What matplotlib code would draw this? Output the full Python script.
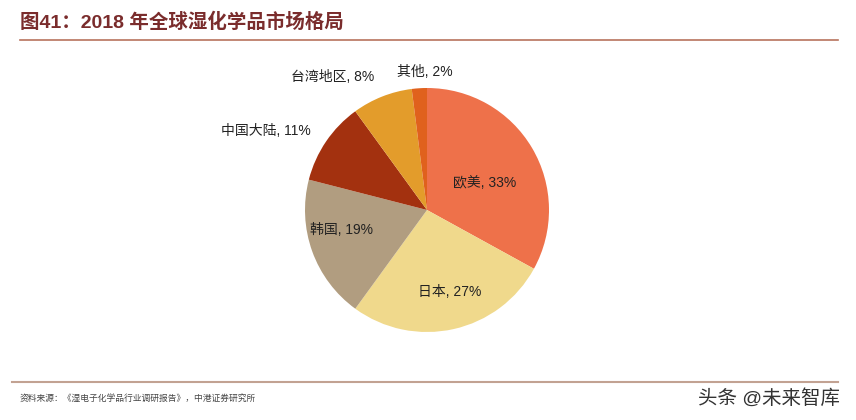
import matplotlib.pyplot as plt
from matplotlib.lines import Line2D

plt.rcParams['font.family'] = ['Liberation Sans', 'Noto Sans CJK SC', 'DejaVu Sans']

# 数据
regions = ['欧美', '日本', '韩国', '中国大陆', '台湾地区', '其他']
shares = [33, 27, 19, 11, 8, 2]
colors = ['#EE714A', '#F0D98C', '#B19D80', '#A3310F', '#E39C2B', '#E0611D']

# 标签位置（饼图半径单位）
label_pos = [(0.47, 0.22), (0.19, -0.67), (-0.70, -0.16),
             (-1.32, 0.65), (-0.77, 1.09), (-0.02, 1.13)]

fig = plt.figure(figsize=(8.56, 4.2), dpi=100)

# 饼图: 中心约 (427, 210)px, 半径约 122px
ax = fig.add_axes([(427 - 122) / 856, (420 - 332) / 420, 244 / 856, 244 / 420])
ax.pie(shares, colors=colors, startangle=90, counterclock=False, radius=1,
       wedgeprops=dict(linewidth=0))
ax.set_xlim(-1, 1)
ax.set_ylim(-1, 1)
ax.set_aspect('equal')
ax.axis('off')

for name, val, (x, y) in zip(regions, shares, label_pos):
    ax.text(x, y, '%s, %d%%' % (name, val), ha='center', va='center',
            fontsize=10, color='#222222', clip_on=False)

# 标题与横线
fig.text(20 / 856, 1 - 22 / 420, '图41：2018 年全球湿化学品市场格局',
         fontsize=14, fontweight='bold', color='#7A2C2C', va='center', ha='left')
fig.add_artist(Line2D([20 / 856, 838 / 856], [1 - 40 / 420, 1 - 40 / 420],
                      color='#B8735E', lw=1.2, transform=fig.transFigure))
fig.add_artist(Line2D([12 / 856, 838 / 856], [1 - 382 / 420, 1 - 382 / 420],
                      color='#C2A292', lw=1.5, transform=fig.transFigure))

# 来源
fig.text(20 / 856, 1 - 398 / 420, '资料来源：《湿电子化学品行业调研报告》，中港证券研究所',
         fontsize=6.3, color='#444444', va='center', ha='left')
fig.text(840 / 856, 1 - 398 / 420, '头条 @未来智库',
         fontsize=14, color='#333333', va='center', ha='right')

fig.savefig('out.png', dpi=100, facecolor='white')
